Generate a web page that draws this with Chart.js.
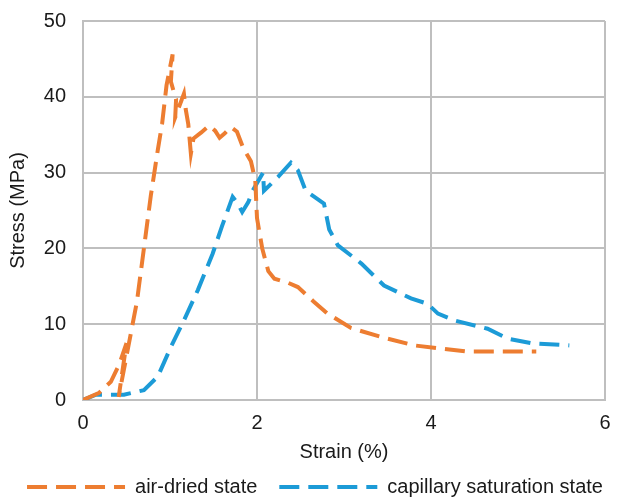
<!DOCTYPE html>
<html>
<head>
<meta charset="utf-8">
<script src="https://cdn.jsdelivr.net/npm/chart.js@4.4.1/dist/chart.umd.min.js"></script>
<style>
    html, body { margin: 0; padding: 0; background: #fff; }
    #wrap { width: 630px; height: 497px; }
</style>
</head>
<body>
<div id="wrap"><canvas id="myChart" width="630" height="497"></canvas></div>
<script>
// tick labels
const xTicks = [0, 2, 4, 6]
const yTicks = [0, 10, 20, 30, 40, 50]

// air-dried state (strain %, stress MPa)
const airStrain = [0, 0.18, 0.32, 0.42, 0.5, 0.41, 0.47, 0.55, 0.62, 0.7, 0.78, 0.86, 0.91, 0.96, 1.03, 1.01, 1.06, 1.07, 1.06, 1.16, 1.18, 1.21, 1.24, 1.27, 1.36, 1.45, 1.52, 1.57, 1.63, 1.7, 1.77, 1.84, 1.93, 1.98, 2.0, 2.06, 2.13, 2.2, 2.35, 2.47, 2.65, 2.81, 3.08, 3.43, 3.81, 4.11, 4.42, 5.21]
const airStress = [0, 0.9, 2.4, 4.8, 7.5, 0.4, 4, 8.8, 13, 20, 27, 33, 36.5, 41.5, 45.6, 42, 40, 39.7, 37.3, 40.4, 38.4, 36.4, 32.5, 34.5, 35.3, 36.2, 35.5, 34.6, 35.2, 36, 35.4, 33.3, 31.5, 29, 24, 20, 17, 16, 15.5, 14.9, 13, 11.4, 9.5, 8.3, 7.2, 6.8, 6.4, 6.4]

// capillary saturation state
const capStrain = [0, 0.15, 0.47, 0.7, 0.86, 1.01, 1.16, 1.32, 1.49, 1.6, 1.72, 1.78, 1.83, 1.9, 1.95, 2.07, 2.08, 2.24, 2.39, 2.47, 2.56, 2.66, 2.77, 2.83, 2.93, 3.2, 3.46, 3.77, 3.96, 4.08, 4.27, 4.65, 4.88, 5.15, 5.59]
const capStress = [0, 0.7, 0.7, 1.3, 3.1, 7, 10.5, 14.5, 19.3, 23, 26.8, 25.9, 24.8, 26.1, 27.6, 30, 27.6, 29.4, 31.3, 30.3, 27.6, 26.8, 25.9, 22.5, 20.4, 18, 15.1, 13.4, 12.7, 11.4, 10.5, 9.4, 8.1, 7.5, 7.2]

const seriesNames = ['air-dried state', 'capillary saturation state']

function toPoints(xs, ys) {
    return xs.map((x, i) => ({ x: x, y: ys[i] }))
}

const fontFam = '"Liberation Sans", Arial, sans-serif'
const gridColor = '#bfbfbf'
const dash = [20, 9]

const ctx = document.getElementById('myChart').getContext('2d')
const myChart = new Chart(ctx, {
    type: 'scatter',
    data: {
        datasets: [
            {
                label: seriesNames[0],
                data: toPoints(airStrain, airStress),
                showLine: true,
                borderColor: '#ed7d31',
                backgroundColor: '#ed7d31',
                borderWidth: 4,
                borderDash: dash,
                pointRadius: 0,
                tension: 0
            },
            {
                label: seriesNames[1],
                data: toPoints(capStrain, capStress),
                showLine: true,
                borderColor: '#1c9bd7',
                backgroundColor: '#1c9bd7',
                borderWidth: 4,
                borderDash: dash,
                pointRadius: 0,
                tension: 0
            }
        ]
    },
    options: {
        responsive: false,
        animation: false,
        layout: { padding: { top: 21, right: 0, left: 0, bottom: 0 } },
        scales: {
            x: {
                type: 'linear',
                min: 0,
                max: 6,
                afterBuildTicks: (axis) => { axis.ticks = xTicks.map(v => ({ value: v })) },
                afterFit: (axis) => { axis.height = 55 },
                grid: { color: gridColor, lineWidth: 2, drawTicks: false },
                border: { color: gridColor, width: 2 },
                ticks: { padding: 11, color: '#1a1a1a', font: { family: fontFam, size: 20 } },
                title: {
                    display: true,
                    text: 'Strain (%)',
                    color: '#1a1a1a',
                    font: { family: fontFam, size: 20 },
                    padding: { top: 0, bottom: -9 }
                }
            },
            y: {
                min: 0,
                max: 50,
                afterBuildTicks: (axis) => { axis.ticks = yTicks.map(v => ({ value: v })) },
                afterFit: (axis) => { axis.width = 83 },
                grid: { color: gridColor, lineWidth: 2, drawTicks: true, tickLength: 14, tickColor: 'rgba(0,0,0,0)' },
                border: { color: gridColor, width: 2 },
                ticks: { padding: 3, color: '#1a1a1a', font: { family: fontFam, size: 20 } },
                title: {
                    display: true,
                    text: 'Stress (MPa)',
                    color: '#1a1a1a',
                    font: { family: fontFam, size: 20 },
                    padding: { top: 6, bottom: 0 }
                }
            },
            // empty right margin
            yRight: {
                position: 'right',
                min: 0,
                max: 50,
                afterFit: (axis) => { axis.width = 25 },
                grid: { display: false, drawTicks: false },
                border: { display: false },
                ticks: { display: false }
            }
        },
        plugins: {
            legend: {
                position: 'bottom',
                maxHeight: 42,
                labels: {
                    usePointStyle: true,
                    pointStyle: 'line',
                    pointStyleWidth: 98,
                    boxHeight: 20,
                    padding: 22,
                    color: '#1a1a1a',
                    font: { family: fontFam, size: 20 },
                    generateLabels: (chart) => {
                        const items = Chart.defaults.plugins.legend.labels.generateLabels(chart)
                        items.forEach((it) => {
                            it.lineDash = dash
                            it.lineWidth = 4
                        })
                        return items
                    }
                }
            },
            tooltip: { enabled: false }
        }
    }
})
</script>
</body>
</html>
